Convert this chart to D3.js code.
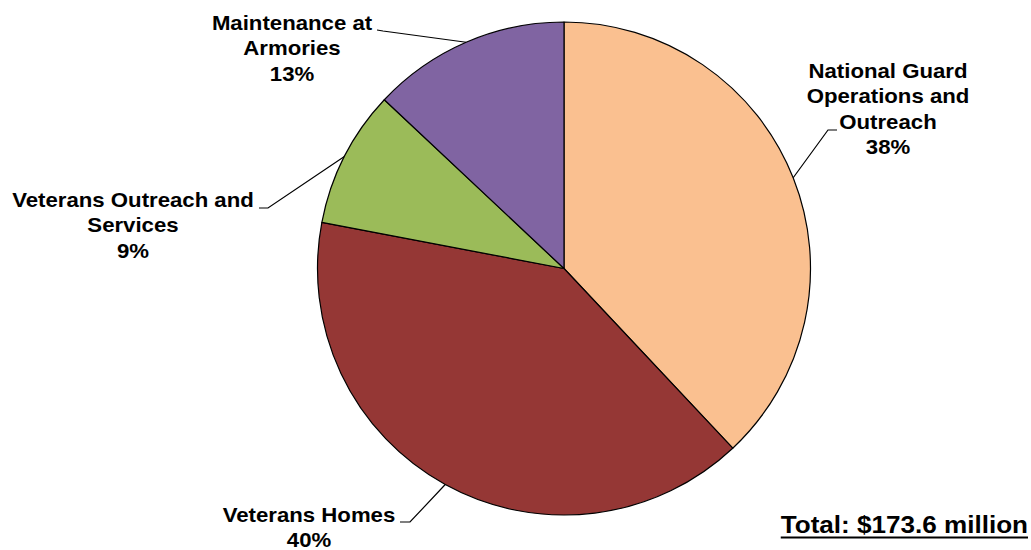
<!DOCTYPE html>
<html>
<head>
<meta charset="utf-8">
<script src="https://cdn.jsdelivr.net/npm/d3@7"></script>
<style>
  html, body { margin: 0; padding: 0; background: #fff; }
  svg { display: block; }
  text { font-family: "Liberation Sans", Arial, sans-serif; font-weight: bold; fill: #000; }
</style>
</head>
<body>
<svg id="chart" width="1031" height="550"></svg>
<script>
// Budget shares by program (percent of total)
const categories = [
  "National Guard Operations and Outreach",
  "Veterans Homes",
  "Veterans Outreach and Services",
  "Maintenance at Armories"
];
const shares = [38, 40, 9, 13];
const labelLines = [
  ["National Guard", "Operations and", "Outreach"],
  ["Veterans Homes"],
  ["Veterans Outreach and", "Services"],
  ["Maintenance at", "Armories"]
];
const colors = ["#FAC090", "#953735", "#9BBB59", "#8064A2"];
const totalLabel = "Total: $173.6 million";

const svg = d3.select("#chart");
const cx = 564, cy = 268.5, r = 246.5;
const stretch = 1.11; // text is set slightly wide

const data = categories.map((c, i) => ({ name: c, value: shares[i], lines: labelLines[i], color: colors[i] }));

const pie = d3.pie().value(d => d.value).sort(null);
const arc = d3.arc().innerRadius(0).outerRadius(r);
const arcs = pie(data);

const g = svg.append("g").attr("transform", `translate(${cx},${cy})`);
g.selectAll("path.slice")
  .data(arcs)
  .enter().append("path")
  .attr("class", "slice")
  .attr("d", arc)
  .attr("fill", d => d.data.color)
  .attr("stroke", "#000")
  .attr("stroke-width", 1.2)
  .attr("stroke-linejoin", "round");

// Label placement: text centre x, first baseline y, leader elbow and tail
const layout = [
  { x: 888, y: 78,  elbow: [828, 130], tail: [837, 130] },
  { x: 309, y: 522, elbow: [410, 522], tail: [400, 522] },
  { x: 133, y: 207, elbow: [268, 208], tail: [259, 208] },
  { x: 292, y: 30,  elbow: [383, 31],  tail: [377, 30] }
];
const lineH = 25.5;

arcs.forEach((a, i) => {
  const L = layout[i];
  const mid = (a.startAngle + a.endAngle) / 2;
  const px = cx + r * Math.sin(mid);
  const py = cy - r * Math.cos(mid);

  svg.append("polyline")
    .attr("points", [[px, py], L.elbow, L.tail].map(p => p.join(",")).join(" "))
    .attr("fill", "none")
    .attr("stroke", "#000")
    .attr("stroke-width", 1.2);

  const t = svg.append("text")
    .attr("transform", `translate(${L.x},0) scale(${stretch},1)`)
    .attr("text-anchor", "middle")
    .attr("font-size", 20);
  const lines = a.data.lines.concat([d3.format(".0f")(a.data.value) + "%"]);
  lines.forEach((ln, k) => {
    t.append("tspan").attr("x", 0).attr("y", L.y + k * lineH).text(ln);
  });
});

// Total annotation, underlined
const totX = 1028;
const tot = svg.append("text")
  .attr("transform", `translate(${totX},0) scale(${stretch},1)`)
  .attr("x", 0)
  .attr("y", 533.5)
  .attr("text-anchor", "end")
  .attr("font-size", 23.5)
  .text(totalLabel);
const w = tot.node().getBBox().width * stretch;
svg.append("line")
  .attr("x1", totX - w).attr("x2", totX)
  .attr("y1", 537.5).attr("y2", 537.5)
  .attr("stroke", "#000").attr("stroke-width", 2);
</script>
</body>
</html>
